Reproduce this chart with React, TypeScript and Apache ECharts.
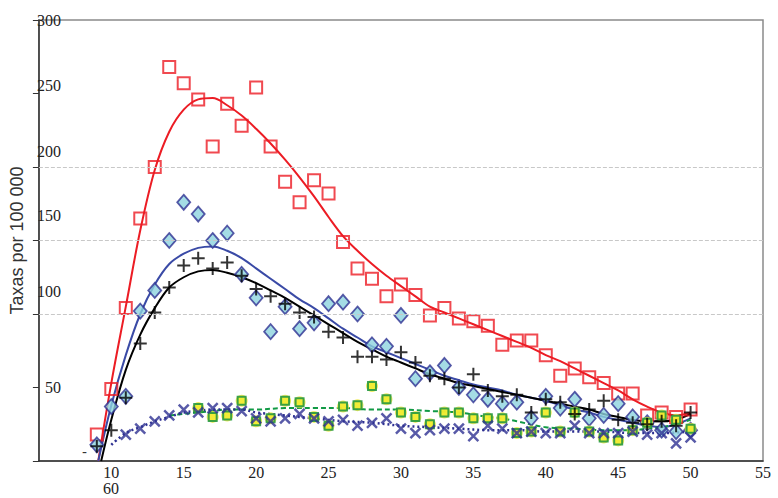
import React, { useEffect, useRef } from "react";
import * as echarts from "echarts";

// ---- Data ----
const agesAll = [9, 10, 11, 12, 13, 14, 15, 16, 17, 18, 19, 20, 21, 22, 23, 24, 25, 26, 27, 28, 29, 30, 31, 32, 33, 34, 35, 36, 37, 38, 39, 40, 41, 42, 43, 44, 45, 46, 47, 48, 49, 50];
const redSquares = [18, 49, 104, 165, 200, 268, 257, 246, 214, 243, 228, 254, 214, 190, 176, 191, 182, 149, 131, 124, 112, 120, 113, 99, 104, 97, 95, 92, 79, 82, 82, 72, 58, 63, 57, 53, 46, 46, 31, 33, 30, 35];
const blueDiamonds = [11, 37, 44, 102, 116, 150, 176, 168, 150, 155, 127, 111, 88, 105, 90, 94, 107, 108, 100, 79, 78, 99, 56, 60, 65, 50, 45, 42, 39, 40, 29, 44, 36, 42, 29, 31, 39, 30, 26, 21, 20, 21];
const blackPlus = [10, 21, 43, 80, 101, 118, 133, 138, 131, 135, 126, 117, 112, 107, 101, 98, 88, 84, 71, 71, 69, 74, 67, 58, 56, 50, 59, 48, 44, 45, 33, 42, 40, 32, 35, 41, 28, 26, 25, 27, 24, 33];

const agesGreen = [16, 17, 18, 19, 20, 21, 22, 23, 24, 25, 26, 27, 28, 29, 30, 31, 32, 33, 34, 35, 36, 37, 38, 39, 40, 41, 42, 43, 44, 45, 46, 47, 48, 49, 50];
const greenSquares = [36, 30, 31, 41, 27, 29, 41, 40, 30, 24, 37, 38, 51, 42, 33, 30, 25, 33, 33, 29, 29, 29, 19, 20, 33, 20, 33, 20, 16, 14, 21, 26, 31, 28, 22];

const agesCross = [11, 12, 13, 14, 15, 16, 17, 18, 19, 20, 21, 22, 23, 24, 25, 26, 27, 28, 29, 30, 31, 32, 33, 34, 35, 36, 37, 38, 39, 40, 41, 42, 43, 44, 45, 46, 47, 48, 49, 50];
const blueCrosses = [18, 22, 27, 31, 35, 33, 36, 36, 34, 29, 27, 29, 32, 29, 27, 28, 24, 26, 29, 22, 19, 21, 22, 22, 17, 24, 22, 19, 20, 19, 19, 24, 19, 19, 19, 20, 18, 19, 12, 16];

// fitted curves (age, value)
const redFit = [[9.1, 0], [10, 53], [11, 105], [12, 157], [13, 198], [14, 224], [15, 239], [16, 246], [17, 247], [18, 242], [19, 235], [20, 226], [21, 216], [22, 205], [23, 193], [24, 180], [25, 166], [26, 153], [27, 143], [28, 134], [29, 126], [30, 119], [31, 112], [32, 105], [33, 101], [34, 97], [35, 93], [36, 89], [37, 85], [38, 81], [39, 77], [40, 72], [41, 68], [42, 63], [43, 58], [44, 53], [45, 48], [46, 42], [47, 37], [48, 33], [49, 31], [50, 33]];
const blueFit = [[9.1, 0], [10, 38], [11, 72], [12, 100], [13, 120], [14, 134], [15, 141], [16, 145], [17, 146], [18, 143], [19, 138], [20, 131], [21, 124], [22, 117], [23, 110], [24, 104], [25, 97], [26, 90], [27, 84], [28, 78], [29, 74], [30, 70], [31, 66], [32, 62], [33, 58], [34, 55], [35, 52], [36, 50], [37, 48], [38, 45], [39, 43], [40, 41], [41, 38], [42, 35], [43, 33], [44, 30], [45, 28], [46, 26], [47, 24], [48, 23], [49, 25], [50, 29]];
const blackFit = [[9.3, 0], [10, 28], [11, 62], [12, 86], [13, 104], [14, 118], [15, 125], [16, 129], [17, 130], [18, 128], [19, 125], [20, 121], [21, 116], [22, 111], [23, 105], [24, 99], [25, 93], [26, 87], [27, 81], [28, 76], [29, 71], [30, 67], [31, 63], [32, 59], [33, 56], [34, 53], [35, 51], [36, 49], [37, 47], [38, 45], [39, 43], [40, 41], [41, 39], [42, 37], [43, 35], [44, 32], [45, 30], [46, 28], [47, 27], [48, 27], [49, 28], [50, 32]];
const greenFit = [[14, 31], [15, 32], [16, 33], [17, 34], [18, 35], [20, 35], [22, 36], [24, 36], [26, 36], [28, 35], [30, 35], [32, 34], [34, 33], [36, 30], [37, 29], [38, 27], [40, 23], [42, 22], [44, 21], [46, 21], [47, 22], [48, 23], [49, 25], [50, 28]];
const dottedFit = [[10, 11], [11, 19], [12, 23], [13, 27], [14, 30], [15, 33], [16, 34], [17, 35], [18, 35], [19, 35], [20, 33], [22, 31], [24, 29], [26, 27], [28, 26], [30, 24], [32, 23], [34, 22], [36, 21], [38, 21], [40, 20], [42, 20], [44, 20], [46, 19], [48, 19], [50, 20]];

const gridValues = [100, 150, 200];
const yTitle = "Taxas por 100 000";

const zip = (xs: number[], ys: number[]) => xs.map((x, i) => [x, ys[i]]);

const SERIF = "'Liberation Serif', 'DejaVu Serif', serif";
const SANS = "'Liberation Sans', Arial, sans-serif";

export default function App() {
  const ref = useRef<HTMLDivElement>(null);
  useEffect(() => {
    document.body.style.margin = "0";
    const chart = echarts.init(ref.current!, null, { renderer: "svg" });
    const shift: Record<string, number> = { 250: 16, 200: 32, 150: 50, 100: 46 };
    const rich: Record<string, any> = {};
    [50, 100, 150, 200, 250, 300].forEach((v) => {
      rich["s" + v] = {
        fontFamily: SERIF,
        fontSize: 16,
        color: "#222",
        padding: [0, 0, shift[v] || 0, 0],
      };
    });
    const lineCommon = { type: "line", showSymbol: false, smooth: 0.35, z: 2 };
    chart.setOption({
      animation: false,
      grid: {
        left: 36,
        right: 15,
        top: 20,
        bottom: 37,
        show: true,
        borderColor: "#8a8a8a",
        borderWidth: 1.5,
      },
      xAxis: {
        type: "value",
        min: 5,
        max: 55,
        interval: 5,
        axisLine: { lineStyle: { color: "#333", width: 1.5 } },
        axisTick: { show: false },
        splitLine: { show: false },
        axisLabel: {
          fontFamily: SERIF,
          fontSize: 16,
          color: "#222",
          margin: 3,
          formatter: (v: number) => (v === 5 ? "" : String(v)),
        },
      },
      yAxis: {
        type: "value",
        min: 0,
        max: 300,
        interval: 50,
        name: yTitle,
        nameLocation: "middle",
        nameGap: 10,
        nameTextStyle: { fontFamily: SANS, fontSize: 18, color: "#333" },
        axisLine: { show: true, lineStyle: { color: "#333", width: 1.5 } },
        axisTick: { show: true, inside: false, length: 6, lineStyle: { color: "#333" } },
        splitLine: { show: false },
        axisLabel: {
          margin: -22,
          align: "right",
          fontFamily: SERIF,
          fontSize: 16,
          color: "#222",
          formatter: (v: number) => (v === 0 ? "" : `{s${v}|${v}}`),
          rich,
        },
      },
      graphic: [
        { type: "text", left: 82, top: 444, style: { text: "-", font: `15px ${SANS}`, fill: "#333" } },
        { type: "text", left: 103, top: 480, style: { text: "60", font: `16px ${SERIF}`, fill: "#222" } },
      ],
      series: [
        {
          ...lineCommon,
          data: redFit,
          lineStyle: { color: "#ec1c24", width: 2 },
          markLine: {
            silent: true,
            symbol: "none",
            label: { show: false },
            lineStyle: { type: "dashed", color: "#c8c8c8", width: 1 },
            data: gridValues.map((v) => ({ yAxis: v })),
          },
        },
        { ...lineCommon, data: blueFit, lineStyle: { color: "#3a4aa6", width: 2 } },
        { ...lineCommon, data: blackFit, lineStyle: { color: "#000", width: 2 } },
        { ...lineCommon, data: greenFit, lineStyle: { color: "#119a45", width: 2, type: [5, 3] } },
        { ...lineCommon, data: dottedFit, lineStyle: { color: "#2e3192", width: 2.5, type: [2, 3] } },
        {
          type: "scatter",
          z: 3,
          data: zip(agesAll, redSquares),
          symbol: "rect",
          symbolSize: 12,
          itemStyle: { color: "rgba(255,255,255,0)", borderColor: "#ec1c24", borderWidth: 2 },
        },
        {
          type: "scatter",
          z: 3,
          data: zip(agesAll, blueDiamonds),
          symbol: "diamond",
          symbolSize: [13, 15],
          itemStyle: { color: "#8dd3df", borderColor: "#2e3192", borderWidth: 1.8 },
        },
        {
          type: "scatter",
          z: 4,
          data: zip(agesAll, blackPlus),
          symbol: "path://M5,0 L5,10 M0,5 L10,5",
          symbolSize: 13,
          itemStyle: { color: "rgba(0,0,0,0)", borderColor: "#000", borderWidth: 2 },
        },
        {
          type: "scatter",
          z: 3,
          data: zip(agesGreen, greenSquares),
          symbol: "circle",
          symbolSize: 12,
          itemStyle: { color: "#ece73a" },
        },
        {
          type: "scatter",
          z: 3,
          data: zip(agesGreen, greenSquares),
          symbol: "rect",
          symbolSize: 8,
          itemStyle: { color: "#f2ec2c", borderColor: "#0e8f3f", borderWidth: 2 },
        },
        {
          type: "scatter",
          z: 4,
          data: zip(agesCross, blueCrosses),
          symbol: "path://M0,0 L10,10 M10,0 L0,10",
          symbolSize: 10,
          itemStyle: { color: "rgba(0,0,0,0)", borderColor: "#2e3192", borderWidth: 2.5 },
        },
      ],
    });
    return () => chart.dispose();
  }, []);
  return <div ref={ref} style={{ width: 778, height: 498 }} />;
}
